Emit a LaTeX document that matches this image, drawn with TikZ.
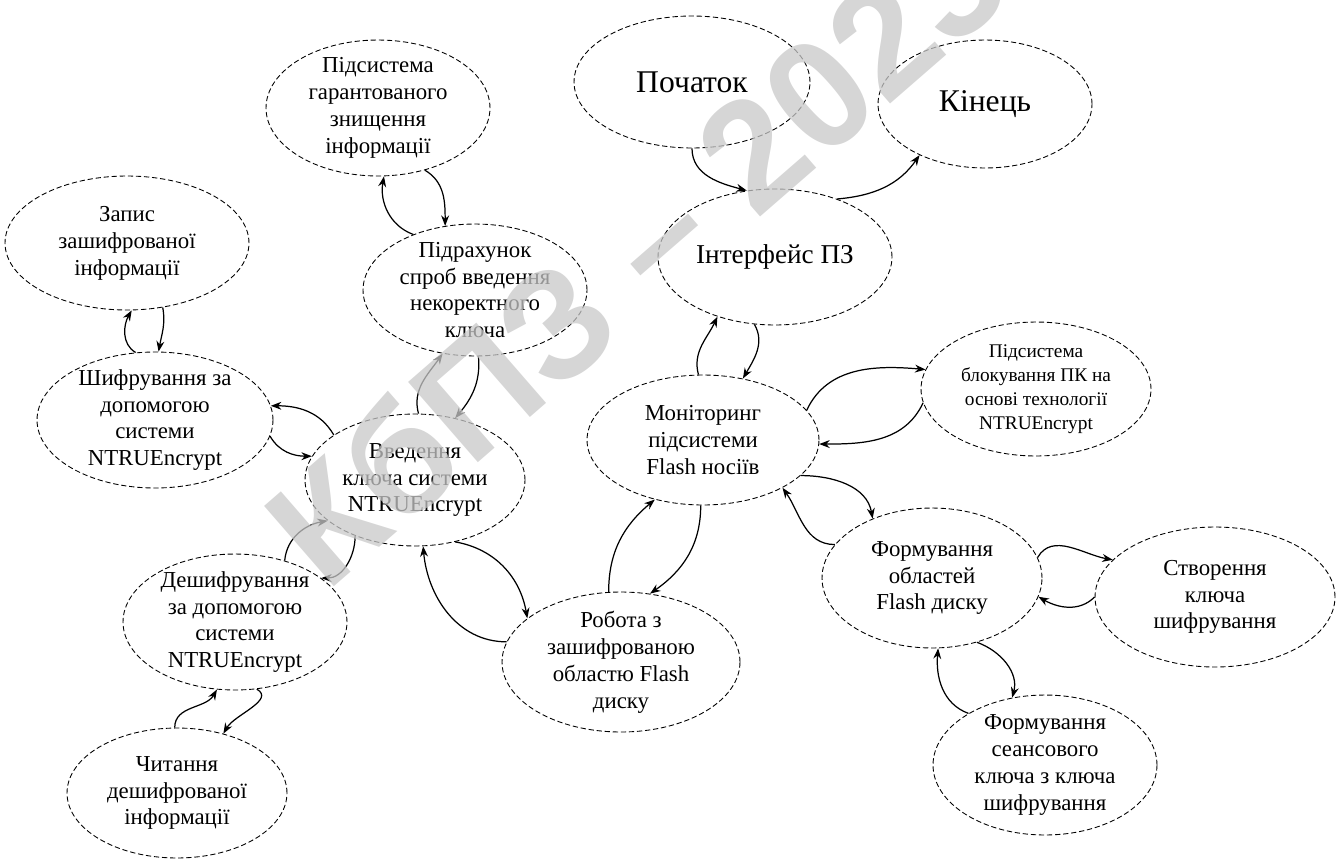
\documentclass[tikz,border=0pt]{standalone}
\usepackage{fontspec}
\setmainfont{Liberation Serif}
\newfontfamily\wmfont{Liberation Sans}
\usetikzlibrary{shapes.geometric,arrows.meta}
\definecolor{wmgray}{RGB}{200,200,200}
\begin{document}
\begin{tikzpicture}[x=0.02cm,y=-0.02cm,
  ell/.style={ellipse, draw, dash pattern=on 3pt off 1.6pt, line width=0.5pt, inner sep=0pt},
  lbl/.style={align=center, inner sep=0pt, font=\fontsize{13}{15.3}\selectfont},
  lblsmall/.style={align=center, inner sep=0pt, font=\fontsize{11}{13.6}\selectfont},
  lblbig/.style={align=center, inner sep=0pt, font=\fontsize{18}{20}\selectfont},
  arr/.style={-{Stealth[length=6pt,width=4.5pt]}, line width=0.7pt},
  wm/.style={text=wmgray, opacity=0.75, font=\wmfont\bfseries\fontsize{88}{96}\selectfont, inner sep=0pt}]
\useasboundingbox (0,0) rectangle (1338,859);
% ellipses
\node[ell, minimum width=4.48cm, minimum height=2.72cm] (n1) at (378,108) {};
\node[ell, minimum width=4.72cm, minimum height=2.64cm] (n2) at (692,82) {};
\node[ell, minimum width=4.28cm, minimum height=2.56cm] (n3) at (985,104) {};
\node[ell, minimum width=4.68cm, minimum height=2.72cm] (n4) at (775,257) {};
\node[ell, minimum width=4.88cm, minimum height=2.68cm] (n5) at (127,243) {};
\node[ell, minimum width=4.72cm, minimum height=2.72cm] (n6) at (155,420) {};
\node[ell, minimum width=4.48cm, minimum height=2.64cm] (n7) at (475,290) {};
\node[ell, minimum width=4.40cm, minimum height=2.64cm] (n8) at (415,480) {};
\node[ell, minimum width=4.64cm, minimum height=2.60cm] (n9) at (703,440) {};
\node[ell, minimum width=4.60cm, minimum height=2.68cm] (n10) at (1036,389) {};
\node[ell, minimum width=4.40cm, minimum height=2.80cm] (n11) at (932,578) {};
\node[ell, minimum width=4.80cm, minimum height=2.80cm] (n12) at (1215,597) {};
\node[ell, minimum width=4.48cm, minimum height=2.80cm] (n13) at (1045,765) {};
\node[ell, minimum width=4.76cm, minimum height=2.80cm] (n14) at (621,662) {};
\node[ell, minimum width=4.48cm, minimum height=2.72cm] (n15) at (235,622) {};
\node[ell, minimum width=4.40cm, minimum height=2.60cm] (n16) at (177,793) {};
% labels
\node[lbl] (t1) at (n1) {Підсистема\\гарантованого\\знищення\\інформації};
\node[lblbig] (t2) at (n2) {Початок};
\node[lblbig] (t3) at (n3) {Кінець};
\node[lbl, font=\fontsize{15.5}{18}\selectfont] (t4) at (n4) {Інтерфейс ПЗ};
\node[lbl] (t5) at (n5) {Запис\\зашифрованої\\інформації};
\node[lbl] (t6) at (n6) {Шифрування за\\допомогою\\системи\\NTRUEncrypt};
\node[lbl] (t7) at (n7) {Підрахунок\\спроб введення\\некоректного\\ключа};
\node[lbl] (t8) at (n8) {Введення\\ключа системи\\NTRUEncrypt};
\node[lbl] (t9) at (n9) {Моніторинг\\підсистеми\\Flash носіїв};
\node[lblsmall] (t10) at (n10) {Підсистема\\блокування ПК на\\основі технології\\NTRUEncrypt};
\node[lbl] (t11) at (n11) {Формування\\областей\\Flash диску};
\node[lbl] (t12) at (n12) {Створення\\ключа\\шифрування};
\node[lbl] (t13) at (n13) {Формування\\сеансового\\ключа з ключа\\шифрування};
\node[lbl] (t14) at (n14) {Робота з\\зашифрованою\\областю Flash\\диску};
\node[lbl] (t15) at (n15) {Дешифрування\\за допомогою\\системи\\NTRUEncrypt};
\node[lbl] (t16) at (n16) {Читання\\дешифрованої\\інформації};
% connectors
\draw[arr] (n2.-90) to[out=-90,in=165] (n4.113);
\draw[arr] (n4.43) to[out=5,in=-125] (n3.-142);
\draw[arr] (n9.94) to[out=105,in=-115] (n4.-134);
\draw[arr] (n4.-107) to[out=-60,in=60] (n9.57);
\draw[arr] (n9.16) to[out=65,in=175] (n10.170);
\draw[arr] (n10.187) to[out=-115,in=0] (n9.-2);
\draw[arr] (n9.-20) to[out=0,in=100] (n11.135);
\draw[arr] (n11.161) to[out=180,in=-55] (n9.-31);
\draw[arr] (n11.11) to[out=60,in=170] (n12.160);
\draw[arr] (n12.180) to[out=-135,in=-30] (n11.-10);
\draw[arr] (n13.146) to[out=160,in=-95] (n11.-85);
\draw[arr] (n11.-55) to[out=-20,in=75] (n13.116);
\draw[arr] (n14.100) to[out=90,in=-140] (n9.-129);
\draw[arr] (n9.-92) to[out=-90,in=35] (n14.67);
\draw[arr] (n8.-57) to[out=-10,in=100] (n14.155);
\draw[arr] (n14.170) to[out=180,in=-85] (n8.-83);
\draw[arr] (n8.151) to[out=120,in=0] (n6.7);
\draw[arr] (n6.-8) to[out=-60,in=180] (n8.167);
\draw[arr] (n15.51) to[out=85,in=190] (n8.-155);
\draw[arr] (n8.-137) to[out=-90,in=0] (n15.27);
\draw[arr] (n16.92) to[out=90,in=-120] (n15.-105);
\draw[arr] (n15.-72) to[out=-30,in=60] (n16.52);
\draw[arr] (n6.106) to[out=150,in=-120] (n5.-86);
\draw[arr] (n5.-61) to[out=-80,in=80] (n6.87);
\draw[arr] (n7.138) to[out=160,in=-100] (n1.-85);
\draw[arr] (n1.-53) to[out=-30,in=90] (n7.115);
\draw[arr] (n8.87) to[out=105,in=-125] (n7.-117);
\draw[arr] (n7.-87) to[out=-85,in=50] (n8.57);
% watermark
\node[wm, rotate=41, anchor=west] (wmark) at (290,552) {КбПЗ – 2023};
\end{tikzpicture}
\end{document}
